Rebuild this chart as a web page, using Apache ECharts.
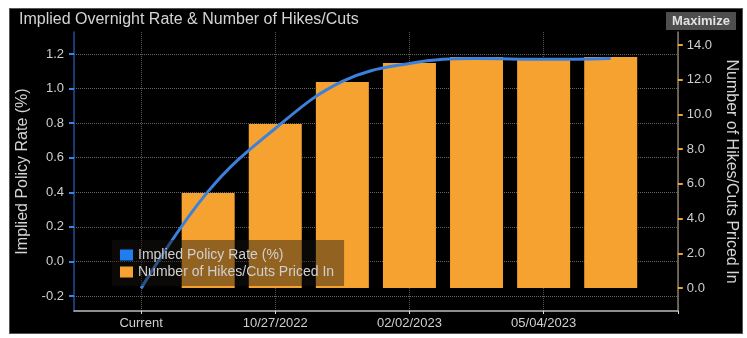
<!DOCTYPE html>
<html>
<head>
<meta charset="utf-8">
<script src="https://cdn.jsdelivr.net/npm/echarts@6/dist/echarts.min.js"></script>
<style>
  body { margin: 0; background: #fff; }
  #panel { position: absolute; left: 9px; top: 8px; width: 732px; height: 324px; background: #000; border: 1px solid #555; }
  #chart { position: absolute; left: 0; top: 0; width: 747px; height: 338px; }
</style>
</head>
<body>
<div id="panel"></div>
<div id="chart"></div>
<script>
// meeting dates (Current + next ECB meetings)
const meetings = ['Current', '09/08/2022', '10/27/2022', '12/15/2022', '02/02/2023', '03/16/2023', '05/04/2023', '06/15/2023'];
// implied policy rate (%) per meeting
const impliedRate = [-0.156, 0.405, 0.769, 1.041, 1.145, 1.174, 1.169, 1.174];
// number of hikes/cuts priced in (no bar at Current)
const hikesPriced = [null, 5.47, 9.45, 11.87, 12.96, 13.31, 13.25, 13.31];
const leftTicks = [-0.2, 0.0, 0.2, 0.4, 0.6, 0.8, 1.0, 1.2];
const rightTicks = [0, 2, 4, 6, 8, 10, 12, 14];

// pad one empty slot on each side so the axis runs past the first/last meeting
const cats = [''].concat(meetings, [' ']);
const lineData = [null].concat(impliedRate, [null]);
const barData = [null].concat(hikesPriced, [null]);

const font = '"Liberation Sans", Arial, sans-serif';
const showLabel = (i) => i % 2 === 1;

const chart = echarts.init(document.getElementById('chart'));
chart.setOption({
    backgroundColor: 'transparent',
    animation: false,
    textStyle: { fontFamily: font },
    title: {
        text: 'Implied Overnight Rate & Number of Hikes/Cuts',
        left: 14, top: 7,
        textStyle: { color: '#d4d4d4', fontSize: 16, fontWeight: 'normal', fontFamily: font }
    },
    graphic: [{
        type: 'group', left: 666, top: 12,
        children: [
            { type: 'rect', shape: { x: 0, y: 0, width: 70, height: 18 }, style: { fill: '#4e4e4e' } },
            { type: 'text', x: 35, y: 9, style: { text: 'Maximize', fill: '#e2e2e2', font: 'bold 13px ' + font, align: 'center', verticalAlign: 'middle' } }
        ]
    }],
    legend: {
        orient: 'vertical',
        left: 112, top: 240,
        padding: [8, 10, 7, 8],
        itemGap: 3,
        itemWidth: 13, itemHeight: 11,
        backgroundColor: 'rgba(25,20,15,0.45)',
        textStyle: { color: '#d0d0d0', fontSize: 14, fontFamily: font },
        data: [
            { name: 'Implied Policy Rate (%)', icon: 'rect' },
            { name: 'Number of Hikes/Cuts Priced In', icon: 'rect' }
        ]
    },
    grid: { left: 74, right: 66, top: 32, bottom: 27 },
    xAxis: {
        type: 'category',
        data: cats,
        boundaryGap: false,
        axisLine: { onZero: false, lineStyle: { color: '#bdbdbd', width: 1.5 } },
        axisTick: { interval: showLabel, length: 3, lineStyle: { color: '#ddd' } },
        axisLabel: { interval: showLabel, color: '#cfcfcf', fontSize: 13, margin: 6 },
        splitLine: { show: true, interval: showLabel, lineStyle: { color: '#555', type: 'dotted' } }
    },
    yAxis: [{
        type: 'value',
        position: 'left',
        min: -0.2868, max: 1.327,
        name: 'Implied Policy Rate (%)',
        nameLocation: 'middle',
        nameGap: 42,
        nameTextStyle: { color: '#d4d4d4', fontSize: 16, fontFamily: font },
        axisLine: { show: true, lineStyle: { color: '#1f4f9a', width: 1.5 } },
        axisTick: { show: true, length: 5, customValues: leftTicks, lineStyle: { color: '#3a84e6', width: 2 } },
        axisLabel: { customValues: leftTicks, color: '#cfcfcf', fontSize: 13, margin: 10, formatter: (v) => v.toFixed(1) },
        splitLine: { show: true, lineStyle: { color: '#666', type: 'dotted' } }
    }, {
        type: 'value',
        position: 'right',
        min: -1.325, max: 14.749,
        name: 'Number of Hikes/Cuts Priced In',
        nameLocation: 'middle',
        nameRotate: -90,
        nameGap: 44,
        nameTextStyle: { color: '#d4d4d4', fontSize: 16, fontFamily: font },
        axisLine: { show: true, lineStyle: { color: '#8a7a66', width: 1.5 } },
        axisTick: { show: true, length: 5, customValues: rightTicks, lineStyle: { color: '#f0a030', width: 2 } },
        axisLabel: { customValues: rightTicks, color: '#cfcfcf', fontSize: 13, margin: 9, formatter: (v) => v.toFixed(1) },
        splitLine: { show: false }
    }],
    series: [{
        name: 'Number of Hikes/Cuts Priced In',
        type: 'bar',
        yAxisIndex: 1,
        data: barData,
        barWidth: 53,
        itemStyle: { color: '#f6a230' }
    }, {
        name: 'Implied Policy Rate (%)',
        type: 'line',
        yAxisIndex: 0,
        data: lineData,
        smooth: 0.4,
        showSymbol: false,
        lineStyle: { color: '#3b80dc', width: 3 },
        itemStyle: { color: '#1e7ef0' }
    }]
});
</script>
</body>
</html>
